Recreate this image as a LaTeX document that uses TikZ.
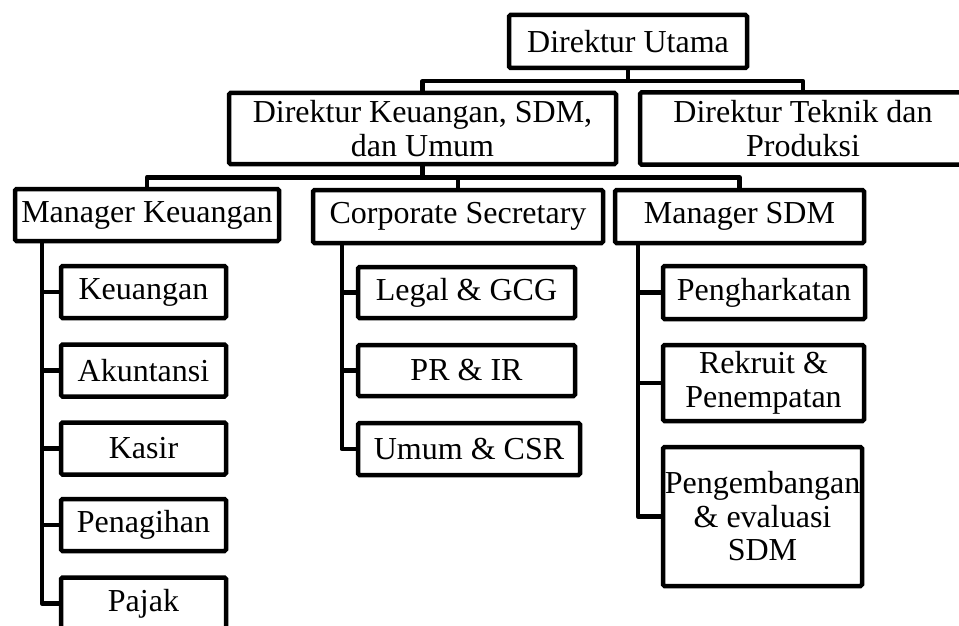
\documentclass[tikz,border=0pt]{standalone}
\usepackage{fontspec}
\setmainfont{Liberation Serif}
\begin{document}
\begin{tikzpicture}[x=1pt,y=-1pt,
  box/.style={draw, line width=4.5pt, rectangle, rounded corners=1.5pt, inner sep=0pt,
    align=center, font=\fontsize{32}{33.5}\selectfont},
  conn/.style={line width=4.5pt, line join=round}]
\useasboundingbox (0,0) rectangle (959,626);
\clip (0,0) rectangle (959,626);
% level 0
\node[box, minimum width=238pt, minimum height=53pt] (du) at (628,41.5) {Direktur Utama};
% level 1
\node[box, minimum width=387pt, minimum height=71pt] (dk) at (422.5,128.5) {Direktur Keuangan, SDM,\\dan Umum};
\node[box, minimum width=326pt, minimum height=72pt] (dt) at (803,128.5) {Direktur Teknik dan\\Produksi};
% level 2
\node[box, minimum width=264pt, minimum height=52pt] (mk) at (147,215) {Manager Keuangan};
\node[box, minimum width=290pt, minimum height=53pt] (cs) at (458,216.5) {Corporate Secretary};
\node[box, minimum width=249pt, minimum height=53pt] (ms) at (739.5,216.5) {Manager SDM};
% children of Manager Keuangan
\node[box, minimum width=165pt, minimum height=52pt] (k1) at (143.5,292) {Keuangan};
\node[box, minimum width=165pt, minimum height=52pt] (k2) at (143.5,370.5) {Akuntansi};
\node[box, minimum width=165pt, minimum height=52pt] (k3) at (143.5,448.5) {Kasir};
\node[box, minimum width=165pt, minimum height=52pt] (k4) at (143.5,525) {Penagihan};
\node[box, minimum width=165pt, minimum height=52pt] (k5) at (143.5,603.5) {Pajak};
% children of Corporate Secretary
\node[box, minimum width=217pt, minimum height=51pt] (c1) at (466.5,292.5) {Legal \& GCG};
\node[box, minimum width=217pt, minimum height=51pt] (c2) at (466.5,370.5) {PR \& IR};
\node[box, minimum width=222pt, minimum height=52pt] (c3) at (469,449) {Umum \& CSR};
% children of Manager SDM
\node[box, minimum width=202pt, minimum height=53pt] (s1) at (764,292.5) {Pengharkatan};
\node[box, minimum width=201pt, minimum height=76pt] (s2) at (763.5,383) {Rekruit \&\\Penempatan};
\node[box, minimum width=199pt, minimum height=139pt] (s3) at (762.5,516.5) {Pengembangan\\\& evaluasi\\SDM};
% connectors level 0 -> 1
\coordinate (j0) at ([yshift=-11pt]du.south);
\draw[conn] (du.south) -- (j0);
\draw[conn] (j0) -| (dk.north);
\draw[conn] (j0) -| (dt.north);
% connectors level 1 -> 2
\coordinate (j1) at ([yshift=-11pt]dk.south);
\draw[conn] (dk.south) -- (j1);
\draw[conn] (j1) -| (mk.north);
\draw[conn] (j1) -| (cs.north);
\draw[conn] (j1) -| (ms.north);
% connectors to children
\foreach \c in {k1,k2,k3,k4,k5} \draw[conn] ([xshift=29pt]mk.south west) |- (\c.west);
\foreach \c in {c1,c2,c3} \draw[conn] ([xshift=31pt]cs.south west) |- (\c.west);
\foreach \c in {s1,s2,s3} \draw[conn] ([xshift=25pt]ms.south west) |- (\c.west);
\end{tikzpicture}
\end{document}
